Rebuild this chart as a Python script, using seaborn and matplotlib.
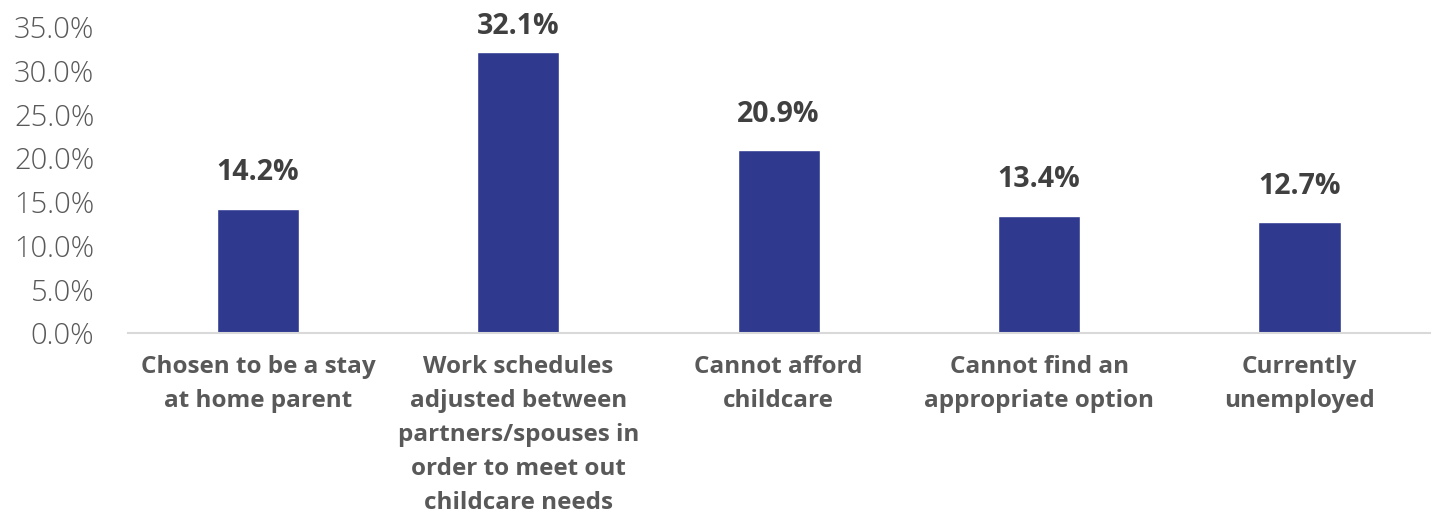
import matplotlib
matplotlib.use("Agg")
import matplotlib.pyplot as plt
import seaborn as sns
import pandas as pd

categories = [
    "Chosen to be a stay\nat home parent",
    "Work schedules\nadjusted between\npartners/spouses in\norder to meet out\nchildcare needs",
    "Cannot afford\nchildcare",
    "Cannot find an\nappropriate option",
    "Currently\nunemployed",
]
values = [14.2, 32.1, 20.9, 13.4, 12.7]
y_ticks = [0, 5, 10, 15, 20, 25, 30, 35]

df = pd.DataFrame({"reason": categories, "pct": values})

sns.set_theme(style="white")
plt.rcParams["font.family"] = ["Open Sans", "DejaVu Sans"]

fig = plt.figure(figsize=(14.34, 5.24), dpi=100)
ax = fig.add_axes([0.089, 0.3645, 0.908, 0.584])

sns.barplot(data=df, x="reason", y="pct", color="#2F3A8F", width=0.315,
            saturation=1, ax=ax)

ax.set_ylim(0, 35)
ax.set_xlim(-0.5, len(categories) - 0.5)
ax.set_yticks(y_ticks)
ax.set_yticklabels([f"{t:.1f}%" for t in y_ticks], fontsize=21,
                   color="#595959", fontweight="light")
ax.tick_params(axis="y", length=0, pad=24)
ax.tick_params(axis="x", length=0, pad=16)
for lbl in ax.get_yticklabels():
    lbl.set_horizontalalignment("right")
ax.set_xticks(range(len(categories)))
ax.set_xticklabels(categories, fontsize=17.5, fontweight="bold", color="#595959",
                   linespacing=1.55, va="top")

# value labels sit above each bar, kept inside the plotting area
for i, v in enumerate(values):
    ax.text(i, min(v + 4.1, 35.0), f"{v:.1f}%", ha="center", va="center",
            fontsize=20.5, fontweight="bold", color="#404040")

ax.set_xlabel("")
ax.set_ylabel("")
for side in ["top", "right", "left"]:
    ax.spines[side].set_visible(False)
ax.spines["bottom"].set_color("#D9D9D9")
ax.spines["bottom"].set_linewidth(1.5)
ax.grid(False)

fig.savefig("out.png", dpi=100, facecolor="white")
